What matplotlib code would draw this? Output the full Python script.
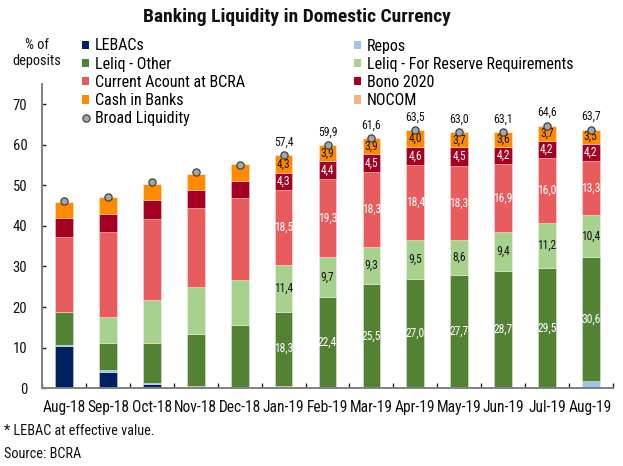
import matplotlib
matplotlib.use("Agg")
import matplotlib.pyplot as plt
import numpy as np
from matplotlib import font_manager as fm
from matplotlib.patches import Patch
from matplotlib.lines import Line2D

# ---------------- data ----------------
months = ["Aug-18", "Sep-18", "Oct-18", "Nov-18", "Dec-18", "Jan-19", "Feb-19",
          "Mar-19", "Apr-19", "May-19", "Jun-19", "Jul-19", "Aug-19"]
lebacs = [10.4, 4.1, 1.0, 0.3, 0.1, 0.0, 0.0, 0.0, 0.0, 0.0, 0.0, 0.0, 0.0]
repos = [0.3, 0.4, 0.3, 0.3, 0.3, 0.6, 0.2, 0.1, 0.0, 0.2, 0.3, 0.0, 1.7]
leliq_other = [8.2, 6.7, 9.9, 12.7, 15.2, 18.3, 22.4, 25.5, 27.0, 27.7, 28.7, 29.5, 30.6]
leliq_rr = [0.0, 6.4, 10.5, 11.6, 11.1, 11.4, 9.7, 9.3, 9.5, 8.6, 9.4, 11.2, 10.4]
current_account = [18.4, 21.0, 20.1, 19.5, 20.1, 18.5, 19.3, 18.3, 18.4, 18.3, 16.9, 16.0, 13.3]
bono_2020 = [4.7, 4.4, 4.5, 4.4, 4.3, 4.3, 4.4, 4.5, 4.6, 4.5, 4.2, 4.2, 4.2]
cash_in_banks = [3.9, 4.0, 4.1, 4.0, 4.1, 4.3, 3.9, 3.9, 4.0, 3.7, 3.6, 3.7, 3.5]
nocom = [0.0] * 13
broad_liquidity = [46.0, 47.2, 50.7, 53.3, 55.1, 57.4, 59.9, 61.6, 63.5, 63.0, 63.1, 64.6, 63.7]
label_from = 5  # data labels shown from Jan-19 on

# ---------------- fonts ----------------
names = {f.name for f in fm.fontManager.ttflist}
stretch = "normal"
if "Roboto Condensed" in names:
    FONT = "Roboto Condensed"; s = 1.0
elif any(f.name == "Roboto" and str(f.stretch) in ("condensed", "75", "semi-condensed")
         for f in fm.fontManager.ttflist):
    FONT = "Roboto"; stretch = "condensed"; s = 1.0
else:
    FONT = "Roboto"; s = 0.9
plt.rcParams["font.family"] = [FONT, "DejaVu Sans"]
plt.rcParams["font.stretch"] = stretch

# ---------------- figure ----------------
W, H = 623, 466
fig = plt.figure(figsize=(W / 100, H / 100), dpi=100)
ax = fig.add_axes([42.3 / W, 1 - 388.3 / H, (612.7 - 42.3) / W, (388.3 - 83.7) / H])

x = np.arange(len(months))
bw = 0.4
series = [
    ("LEBACs", lebacs, "#002060"),
    ("Repos", repos, "#9DC3E6"),
    ("Leliq - Other", leliq_other, "#548235"),
    ("Leliq - For Reserve Requirements", leliq_rr, "#A9D18E"),
    ("Current Acount at BCRA", current_account, "#E85C5E"),
    ("Bono 2020", bono_2020, "#A50021"),
    ("Cash in Banks", cash_in_banks, "#FF8A00"),
    ("NOCOM", nocom, "#F4B183"),
]
label_color = {"Leliq - Other": "white", "Leliq - For Reserve Requirements": "#111111",
               "Current Acount at BCRA": "white", "Bono 2020": "white",
               "Cash in Banks": "#111111"}

bottom = np.zeros(len(months))
handles = {}
for name, vals, col in series:
    v = np.array(vals, dtype=float)
    ax.bar(x, v, bw, bottom=bottom, color=col,
           edgecolor=(1, 1, 1, 0.45), linewidth=0.5, zorder=2)
    handles[name] = Patch(facecolor=col, edgecolor="none")
    if name in label_color:
        for i in range(label_from, len(months)):
            if v[i] > 0:
                ax.text(x[i], bottom[i] + v[i] / 2, f"{v[i]:.1f}".replace(".", ","),
                        ha="center", va="center", fontsize=8.3 * s,
                        color=label_color[name], zorder=4)
    bottom = bottom + v

ax.plot(x, broad_liquidity, linestyle="none", marker="o", markersize=5.2,
        markerfacecolor="#A6A6A6", markeredgecolor="#404040", markeredgewidth=0.9, zorder=5)
for i in range(label_from, len(months)):
    ax.annotate(f"{broad_liquidity[i]:.1f}".replace(".", ","), (x[i], broad_liquidity[i]),
                xytext=(0, 9.5), textcoords="offset points", ha="center", va="center",
                fontsize=8.5 * s, color="#111111")
handles["Broad Liquidity"] = Line2D([], [], linestyle="none", marker="o", markersize=5.2,
                                    markerfacecolor="#A6A6A6", markeredgecolor="#404040",
                                    markeredgewidth=0.9)

# axes styling
ax.set_xlim(-0.5, len(months) - 0.5)
ax.set_ylim(0, 75)
ax.set_yticks(np.arange(0, 71, 10))
ax.set_xticks(x)
ax.set_xticklabels(months)
ax.set_xticks(np.arange(-0.5, len(months) - 0.4, 1.0), minor=True)
for sp in ("top", "right"):
    ax.spines[sp].set_visible(False)
for sp in ("left", "bottom"):
    ax.spines[sp].set_color("#808080")
    ax.spines[sp].set_linewidth(1.4)
ax.tick_params(axis="y", direction="in", length=3, width=1, color="#222222",
               labelsize=10.5 * s, pad=10.8, labelcolor="#111111")
ax.tick_params(axis="x", which="major", length=0, labelsize=11.2 * s, pad=8.5,
               labelcolor="#111111")
ax.tick_params(axis="x", which="minor", direction="in", length=3.6, width=1,
               color="#222222")

# legends
fs_leg = 11.5 * s
col1 = ["LEBACs", "Leliq - Other", "Current Acount at BCRA", "Cash in Banks", "Broad Liquidity"]
col2 = ["Repos", "Leliq - For Reserve Requirements", "Bono 2020", "NOCOM"]
common = dict(loc="upper left", frameon=False, fontsize=fs_leg, handlelength=0.45,
              handleheight=0.45, handletextpad=0.33, labelspacing=0.2,
              borderpad=0, borderaxespad=0, bbox_transform=fig.transFigure)
leg1 = fig.legend([handles[n] for n in col1], col1,
                  bbox_to_anchor=(82.3 / W, 1 - 38.5 / H), **common)
leg2 = fig.legend([handles[n] for n in col2], col2,
                  bbox_to_anchor=(354.3 / W, 1 - 38.5 / H), **common)

# texts
fig.text(296.5 / W, 1 - 17 / H, "Banking Liquidity in Domestic Currency",
         ha="center", va="center", fontsize=14 * s, fontweight="bold", color="#111111")
fig.text(37 / W, 1 - 53 / H, "% of\ndeposits", ha="center", va="center",
         multialignment="center", fontsize=10.4 * s, linespacing=1.2, color="#111111")
fig.text(4 / W, 1 - 431 / H, "* LEBAC at effective value.", ha="left", va="center",
         fontsize=10.3 * s, color="#111111")
fig.text(4 / W, 1 - 454.5 / H, "Source: BCRA", ha="left", va="center",
         fontsize=10.3 * s, color="#111111")

fig.savefig("out.png", dpi=100)
